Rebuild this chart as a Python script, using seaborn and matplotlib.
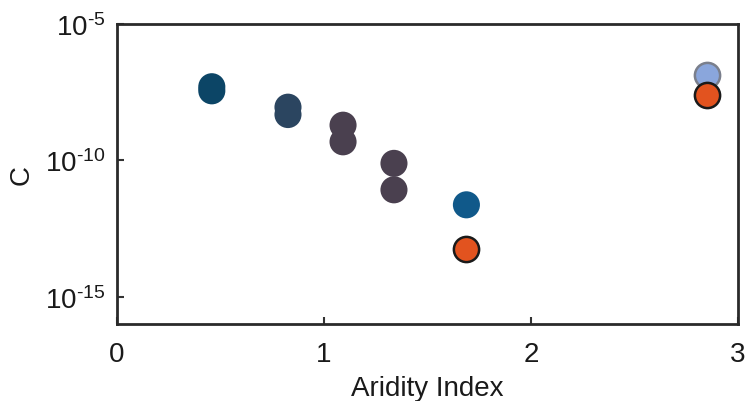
import matplotlib
matplotlib.use("Agg")
import matplotlib.pyplot as plt
import seaborn as sns
import pandas as pd
import numpy as np

# data
aridity = [0.458, 0.458, 0.826, 0.826, 1.092, 1.092, 1.338, 1.338, 1.688, 2.85, 1.688, 2.85]
log_c = [-7.30, -7.45, -8.05, -8.32, -8.71, -9.32, -10.11, -11.08, -11.63, -6.86, -13.25, -7.62]
group = ["a", "a", "b", "b", "c", "c", "c", "c", "d", "e", "f", "f"]
edged = [False] * 9 + [True] * 3
ytick_vals = [1e-15, 1e-10, 1e-5]
ytick_text = [r"$\mathregular{10^{\text{-}15}}$", r"$\mathregular{10^{\text{-}10}}$",
              r"$\mathregular{10^{\text{-}5}}$"]

palette = {"a": "#0c4566", "b": "#2b4560", "c": "#4a404f", "d": "#10598a",
           "e": "#8aa6dc", "f": "#e2531f"}
edge_cols = {"e": "#7a7f8c", "f": "#1a1a1a"}

df = pd.DataFrame({"x": aridity, "C": 10.0 ** np.array(log_c), "g": group, "edged": edged})

sns.set_style("white")
plt.rcParams["font.family"] = ["Liberation Sans", "DejaVu Sans"]
plt.rcParams["mathtext.fontset"] = "custom"
plt.rcParams["mathtext.rm"] = "Liberation Sans"
plt.rcParams["axes.unicode_minus"] = False

fig = plt.figure(figsize=(7.54, 4.02), dpi=100)
ax = fig.add_axes([117 / 754, 1 - 325 / 402, (738 - 117) / 754, 300 / 402])

plain = df[~df["edged"]]
sns.scatterplot(data=plain, x="x", y="C", hue="g", palette=palette, s=380,
                linewidth=0, legend=False, ax=ax, zorder=3)
for g in ["e", "f"]:
    sub = df[df["g"] == g]
    sns.scatterplot(data=sub, x="x", y="C", color=palette[g], s=330,
                    edgecolor=edge_cols[g], linewidth=1.8, legend=False, ax=ax, zorder=4)

ax.set_yscale("log")
ax.set_xlim(0, 3)
ax.set_ylim(1e-16, 1e-5)
ax.set_xticks([0, 1, 2, 3])
ax.set_yticks(ytick_vals)
ax.set_yticklabels(ytick_text)
ax.minorticks_off()
ax.tick_params(bottom=True, left=True, direction="in", length=5, width=1.5,
               colors="#333333", labelsize=20, labelcolor="#1a1a1a", pad=8)
ax.tick_params(axis="x", pad=12)
for sp in ax.spines.values():
    sp.set_visible(True)
    sp.set_color("#2a2a2a")
    sp.set_linewidth(2)
ax.set_xlabel("Aridity Index", fontsize=20, color="#1a1a1a", labelpad=6)
ax.set_ylabel("C", fontsize=20, color="#1a1a1a", labelpad=8)

fig.savefig("out.png", dpi=100)
